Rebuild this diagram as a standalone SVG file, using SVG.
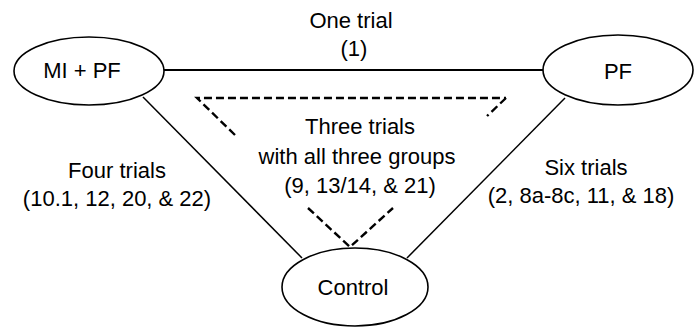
<svg xmlns="http://www.w3.org/2000/svg" width="695" height="328" viewBox="0 0 695 328">
<style>
.node{fill:#fff;stroke:#000;stroke-width:1.6}
.t{font-family:"Liberation Sans",Arial,sans-serif;font-size:22px;fill:#000;text-anchor:middle}
.solid{stroke:#000;stroke-width:1.5;fill:none}
.dash{stroke:#000;stroke-width:2.4;fill:none;stroke-dasharray:8 4}
</style>
<rect width="695" height="328" fill="#fff"/>
<g id="connectors">
<line class="solid" x1="164" y1="70" x2="543" y2="70" style="stroke-width:2"/>
<line class="solid" x1="143" y1="97" x2="302" y2="258"/>
<line class="solid" x1="565" y1="98" x2="407" y2="258"/>
<polyline class="dash" points="235,135 197,98 506,98"/>
<line class="dash" x1="506" y1="98" x2="487" y2="116"/>
<polyline class="dash" points="308,208 350,247 393,208"/>
</g>
<g id="labels">
<text class="t" x="351" y="28">One trial</text>
<text class="t" x="354" y="56">(1)</text>
<text class="t" x="360" y="134">Three trials</text>
<text class="t" x="357" y="164">with all three groups</text>
<text class="t" x="360" y="193">(9, 13/14, &amp; 21)</text>
<text class="t" x="117" y="178">Four trials</text>
<text class="t" x="117" y="206">(10.1, 12, 20, &amp; 22)</text>
<text class="t" x="586" y="175">Six trials</text>
<text class="t" x="581" y="203">(2, 8a-8c, 11, &amp; 18)</text>
</g>
<g id="node-mipf">
<ellipse class="node" cx="89" cy="71" rx="75" ry="34"/>
<text class="t" x="82" y="78">MI + PF</text>
</g>
<g id="node-pf">
<ellipse class="node" cx="618" cy="70" rx="75" ry="35"/>
<text class="t" x="618" y="79">PF</text>
</g>
<g id="node-control">
<ellipse class="node" cx="355" cy="287" rx="73" ry="39"/>
<text class="t" x="353" y="295">Control</text>
</g>
</svg>
